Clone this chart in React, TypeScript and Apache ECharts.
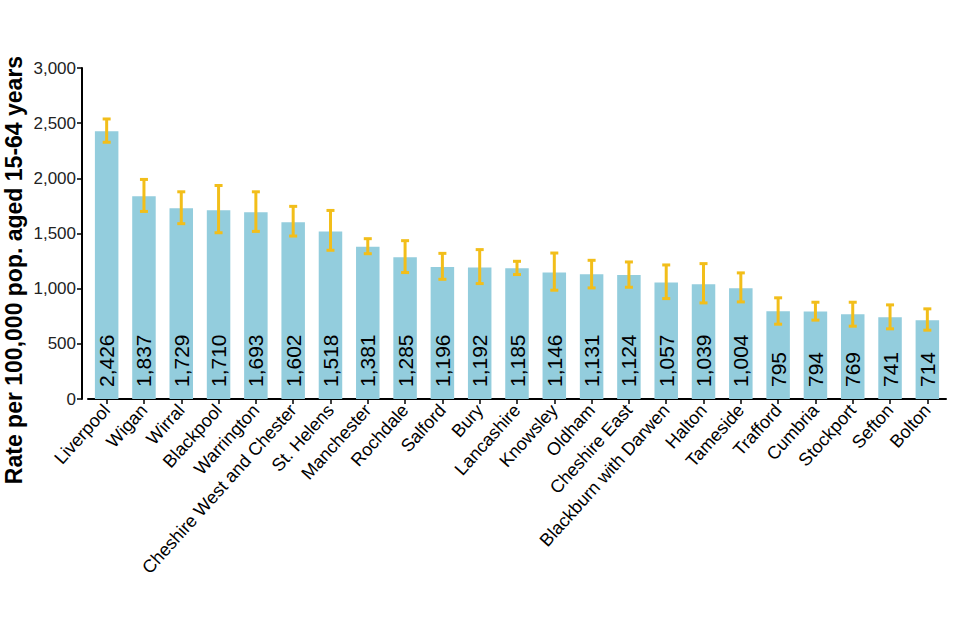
import React, { useEffect, useRef } from "react";
import * as echarts from "echarts";

const categories = [
  "Liverpool", "Wigan", "Wirral", "Blackpool", "Warrington", "Cheshire West and Chester",
  "St. Helens", "Manchester", "Rochdale", "Salford", "Bury", "Lancashire", "Knowsley",
  "Oldham", "Cheshire East", "Blackburn with Darwen", "Halton", "Tameside", "Trafford",
  "Cumbria", "Stockport", "Sefton", "Bolton",
];
const rates = [2426, 1837, 1729, 1710, 1693, 1602, 1518, 1381, 1285, 1196, 1192, 1185, 1146, 1131, 1124, 1057, 1039, 1004, 795, 794, 769, 741, 714];
const lowerCI = [2327, 1700, 1589, 1507, 1519, 1477, 1348, 1317, 1146, 1085, 1046, 1128, 986, 1007, 1013, 910, 871, 880, 678, 715, 660, 636, 624];
const upperCI = [2538, 1990, 1878, 1935, 1878, 1746, 1709, 1453, 1435, 1320, 1354, 1248, 1323, 1257, 1242, 1215, 1227, 1143, 917, 877, 877, 853, 817];
const yTicks = { min: 0, max: 3000, interval: 500 };
const yTitle = "Rate per 100,000 pop. aged 15-64 years";

const FONT = "'Liberation Sans', Arial, sans-serif";
const ERR = "#F2BE1A";

export default function App() {
  const ref = useRef<HTMLDivElement>(null);
  useEffect(() => {
    if (!ref.current) return;
    const chart = echarts.init(ref.current, undefined, { renderer: "svg" });
    const errData = categories.map((_, i) => [i, lowerCI[i], upperCI[i]]);
    chart.setOption({
      animation: false,
      grid: { left: 88, right: 14, top: 68, bottom: 241, containLabel: false },
      xAxis: {
        type: "category",
        data: categories,
        axisLine: { lineStyle: { color: "#000", width: 2 } },
        axisTick: { show: true, alignWithLabel: true, length: 5, lineStyle: { color: "#000", width: 1.5 } },
        axisLabel: { interval: 0, rotate: 48, fontSize: 18, color: "#000", fontFamily: FONT, margin: 8 },
      },
      yAxis: {
        type: "value",
        min: yTicks.min,
        max: yTicks.max,
        interval: yTicks.interval,
        offset: 6,
        splitLine: { show: false },
        axisLine: { show: true, lineStyle: { color: "#000", width: 2 } },
        axisTick: { show: true, length: 5, lineStyle: { color: "#000", width: 1.5 } },
        axisLabel: {
          fontSize: 17, color: "#222", fontFamily: FONT, margin: 6,
          formatter: (v: number) => v.toLocaleString("en-US"),
        },
      },
      graphic: [
        {
          type: "text",
          x: 14,
          y: 270,
          rotation: Math.PI / 2,
          style: {
            text: yTitle,
            fontSize: 23,
            fontWeight: "bold",
            fontFamily: FONT,
            fill: "#000",
            align: "center",
            verticalAlign: "middle",
          },
        },
      ],
      series: [
        {
          type: "bar",
          data: rates,
          barCategoryGap: "37%",
          itemStyle: { color: "#93CDDD" },
          label: {
            show: true,
            position: "insideBottom",
            rotate: 90,
            align: "left",
            verticalAlign: "middle",
            distance: 12,
            fontSize: 21,
            color: "#000",
            fontFamily: FONT,
            formatter: (p: any) => Number(p.value).toLocaleString("en-US"),
          },
          z: 2,
        },
        {
          type: "custom",
          data: errData,
          encode: { x: 0, y: [1, 2] },
          z: 5,
          renderItem: (params: any, api: any) => {
            const x = api.value(0);
            const lo = api.coord([x, api.value(1)]);
            const hi = api.coord([x, api.value(2)]);
            const cap = 4;
            const st = { stroke: ERR, lineWidth: 3 };
            return {
              type: "group",
              children: [
                { type: "line", shape: { x1: hi[0], y1: hi[1], x2: lo[0], y2: lo[1] }, style: st },
                { type: "line", shape: { x1: hi[0] - cap, y1: hi[1], x2: hi[0] + cap, y2: hi[1] }, style: st },
                { type: "line", shape: { x1: lo[0] - cap, y1: lo[1], x2: lo[0] + cap, y2: lo[1] }, style: st },
              ],
            };
          },
        },
      ],
    });
    return () => chart.dispose();
  }, []);
  return <div ref={ref} style={{ width: 960, height: 640, position: "absolute", left: 0, top: 0, background: "#fff" }} />;
}
